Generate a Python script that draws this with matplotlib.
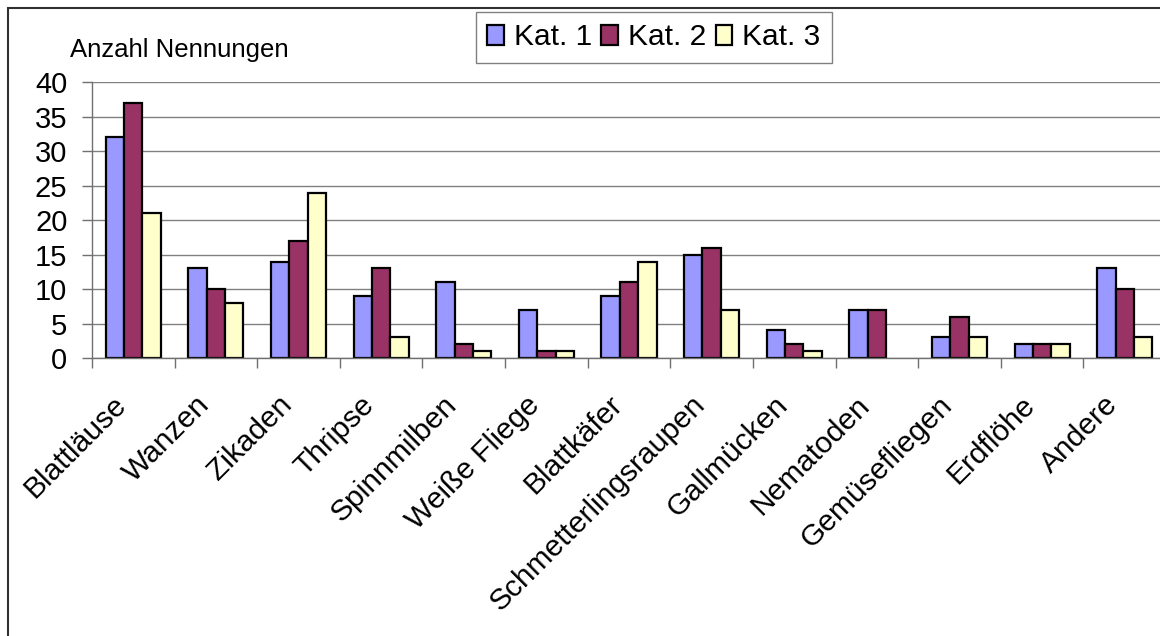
import matplotlib
matplotlib.use("Agg")
import matplotlib.pyplot as plt
import matplotlib.transforms as mtransforms
from matplotlib.patches import Rectangle
import numpy as np

plt.rcParams['font.family'] = ['Liberation Sans', 'DejaVu Sans']

categories = ["Blattläuse", "Wanzen", "Zikaden", "Thripse", "Spinnmilben",
              "Weiße Fliege", "Blattkäfer", "Schmetterlingsraupen", "Gallmücken",
              "Nematoden", "Gemüsefliegen", "Erdflöhe", "Andere"]
kat1 = [32, 13, 14, 9, 11, 7, 9, 15, 4, 7, 3, 2, 13]
kat2 = [37, 10, 17, 13, 2, 1, 11, 16, 2, 7, 6, 2, 10]
kat3 = [21, 8, 24, 3, 1, 1, 14, 7, 1, 0, 3, 2, 3]
series_names = ["Kat. 1", "Kat. 2", "Kat. 3"]
colors = ["#9999FF", "#993366", "#FFFFCC"]
yticks = [0, 5, 10, 15, 20, 25, 30, 35, 40]

W, H = 1160, 636
fig = plt.figure(figsize=(W / 100, H / 100), dpi=100)

# plot area in pixels: x 92..1166, y(0)=358, y(40)=82
ax = fig.add_axes([92 / W, (H - 358) / H, (1166 - 92) / W, (358 - 82) / H])

x = np.arange(len(categories))
bw = 1 / 4.5
for k, (vals, name, col) in enumerate(zip([kat1, kat2, kat3], series_names, colors)):
    bars = ax.bar(x + (k - 1) * bw, vals, width=bw, color=col, edgecolor="black",
                  linewidth=1.6, label=name, zorder=3)
    for b, v in zip(bars, vals):
        if v == 0:
            b.set_linewidth(0)  # empty bar draws nothing

ax.set_xlim(-0.5, len(categories) - 0.5)
ax.set_ylim(0, 40.05)
ax.set_yticks(yticks)
ax.tick_params(axis="y", labelsize=21, length=7.2, width=1, color="#707070",
               pad=10.5, direction="out")
ax.yaxis.grid(True, color="#808080", linewidth=1, zorder=0)

# tick marks between categories, labels at category centers
ax.set_xticks(np.arange(len(categories) + 1) - 0.5)
ax.set_xticklabels([])
ax.tick_params(axis="x", which="major", length=7.2, width=1, color="#707070",
               direction="out")
ax.set_xticks(x, minor=True)
ax.set_xticklabels(categories, minor=True, rotation=45, ha="right", va="top",
                   rotation_mode="anchor", fontsize=21.5)
ax.tick_params(axis="x", which="minor", length=0, pad=23.5)
offset = mtransforms.ScaledTranslation(-21 / 100, 0, fig.dpi_scale_trans)
for lab in ax.get_xticklabels(minor=True):
    lab.set_transform(lab.get_transform() + offset)

for side in ["top", "right"]:
    ax.spines[side].set_visible(False)
for side in ["left", "bottom"]:
    ax.spines[side].set_color("#707070")
    ax.spines[side].set_linewidth(1)
    ax.spines[side].set_zorder(4)

fig.text(70 / W, 1 - 57 / H, "Anzahl Nennungen", fontsize=18.5, va="baseline", ha="left")

leg = fig.legend(loc="upper left", bbox_to_anchor=(476 / W, 1 - 12 / H),
                 bbox_transform=fig.transFigure, ncol=3, fontsize=21.5,
                 frameon=True, fancybox=False, framealpha=1, borderaxespad=0,
                 handlelength=0.55, handleheight=0.65, handletextpad=0.35,
                 columnspacing=0.3, borderpad=0.38)
leg.get_frame().set_edgecolor("#808080")
leg.get_frame().set_linewidth(1)

# outer chart border (only left and top edges are visible)
fig.patches.append(Rectangle((7.5 / W, -0.1), 1.2, 1 - 7.5 / H + 0.1,
                             transform=fig.transFigure, fill=False,
                             edgecolor="#303030", linewidth=1.5))

fig.savefig("out.png", dpi=100)
